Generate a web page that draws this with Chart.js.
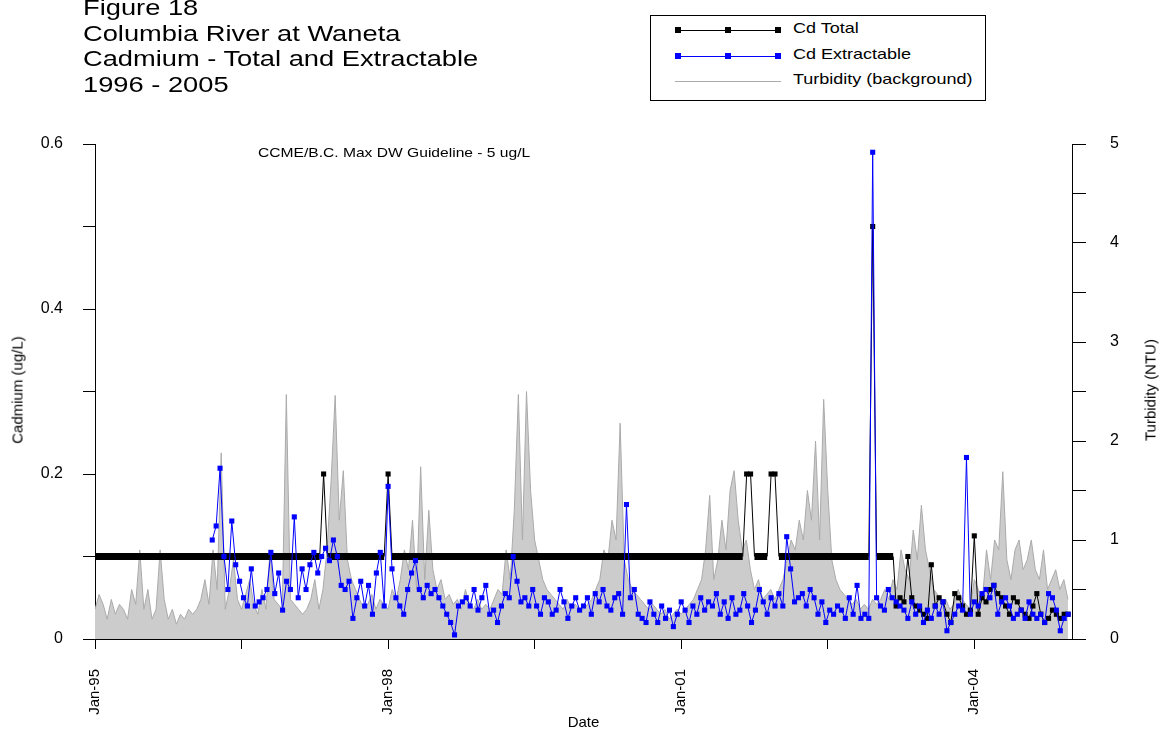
<!DOCTYPE html>
<html><head><meta charset="utf-8">
<script src="https://cdn.jsdelivr.net/npm/chart.js@4/dist/chart.umd.min.js"></script>
<style>
body{margin:0;background:#fff;font-family:"Liberation Sans",Arial,sans-serif;}
#wrap{position:relative;width:1160px;height:736px;overflow:hidden}
canvas{position:absolute;left:0;top:0}
.t{position:absolute;left:83px;font-size:22px;line-height:25.5px;color:#000;transform:scaleX(1.24);transform-origin:0 0;white-space:nowrap}
#leg{position:absolute;left:650px;top:15px;width:334px;height:84px;border:1px solid #000;background:#fff;font-size:15px}
.row{position:absolute;left:24px;height:20px}
.row span{position:absolute;left:118px;top:-2px;white-space:nowrap;transform:scaleX(1.2);transform-origin:0 0}
.ln{position:absolute;left:0;top:9px;width:106px;height:1px}
.mk{position:absolute;top:6px;width:6px;height:6px}
#guide{position:absolute;left:258px;top:145px;font-size:13px;transform:scaleX(1.2);transform-origin:0 0;white-space:nowrap}
#rt{position:absolute;left:1150px;top:390px;font-size:15px;white-space:nowrap;transform:translate(-50%,-50%) rotate(-90deg)}
#lt{position:absolute;left:17px;top:390px;font-size:15px;white-space:nowrap;transform:translate(-50%,-50%) rotate(-90deg)}
</style></head><body>
<div id="wrap">
<canvas id="c" width="1160" height="736"></canvas>
<div class="t" style="top:-5px">Figure 18<br>Columbia River at Waneta<br>Cadmium - Total and Extractable<br>1996 - 2005</div>
<div id="leg">
 <div class="row" style="top:5px"><div class="ln" style="background:#000"></div><div class="mk" style="left:0;background:#000"></div><div class="mk" style="left:50px;background:#000"></div><div class="mk" style="left:100px;background:#000"></div><span>Cd Total</span></div>
 <div class="row" style="top:31px"><div class="ln" style="background:#00f"></div><div class="mk" style="left:0;background:#00f"></div><div class="mk" style="left:50px;background:#00f"></div><div class="mk" style="left:100px;background:#00f"></div><span>Cd Extractable</span></div>
 <div class="row" style="top:56px"><div class="ln" style="background:#aaa"></div><span>Turbidity (background)</span></div>
</div>
<div id="guide">CCME/B.C. Max DW Guideline - 5 ug/L</div>
<div id="lt">Cadmium (ug/L)</div>
<div id="rt">Turbidity (NTU)</div>
</div>
<script>
const xTicks=[1995,1996.5,1998,1999.5,2001,2002.5,2004];
const xTickLabels={1995:"Jan-95",1998:"Jan-98",2001:"Jan-01",2004:"Jan-04"};
const cdTicks=[0,0.1,0.2,0.3,0.4,0.5,0.6];
const ntuTicks=[0,0.5,1,1.5,2,2.5,3,3.5,4,4.5,5];

// Cd Extractable: first sample 1996.20, roughly every 0.04 yr
const extStart=1996.20, extStep=0.04;
const extValues=[0.12,0.137,0.207,0.1,0.06,0.143,0.09,0.07,0.05,0.04,0.085,0.04,0.045,0.05,0.06,0.105,0.055,0.08,0.035,0.07,
0.06,0.148,0.05,0.085,0.06,0.09,0.105,0.08,0.1,0.11,0.095,0.12,0.1,0.065,0.06,0.07,0.025,0.05,0.07,0.04,0.065,0.03,0.08,0.105,0.04,
0.185,
0.085,0.05,0.04,0.03,0.06,0.08,0.095,0.06,0.05,0.065,0.055,0.06,0.05,0.04,0.03,0.02,0.005,0.04,0.045,0.05,0.04,0.06,0.035,0.05,
0.065,0.03,0.035,0.02,0.04,0.055,0.05,0.1,0.07,0.045,0.05,0.04,0.06,0.04,0.03,0.05,0.045,0.03,0.035,0.06,0.045,0.025,0.04,0.05,0.035,
0.04,0.05,0.03,0.055,0.045,0.06,0.04,0.035,0.05,0.055,0.03,0.163,0.05,0.06,0.03,0.025,0.02,0.045,0.03,0.02,0.04,0.025,0.035,0.015,0.03,
0.045,0.035,0.02,0.04,0.03,0.05,0.035,0.045,0.04,0.055,0.03,0.045,0.025,0.05,0.03,0.035,0.055,0.04,0.02,0.035,0.06,0.045,0.03,0.05,0.04,
0.055,0.04,0.124,0.085,0.045,0.05,0.055,0.04,0.06,0.05,0.03,0.045,0.02,0.035,0.03,0.04,0.035,0.025,0.05,0.03,0.065,0.025,0.03,0.025,0.59,
0.05,0.04,0.035,0.06,0.05,0.045,0.04,0.035,0.025,0.045,0.03,0.04,0.02,0.035,0.025,0.04,0.03,0.045,0.01,0.02,0.03,0.04,0.035,0.22,0.03,
0.045,0.04,0.055,0.06,0.05,0.065,0.03,0.045,0.05,0.04,0.025,0.03,0.035,0.025,0.045,0.03,0.025,0.03,0.02,0.055,0.05,0.035,0.01,0.025,0.03];

// Cd Total: detection-limit period (dates / values), then regular samples
const totDates=[1995.0,1997.30,1997.34,1997.38,1997.96,1998.0,1998.04,2001.63,2001.67,2001.71,2001.75,2001.88,2001.92,2001.96,2002.0,2002.92,2002.96,2003.0,2003.17];
const totValues=[0.1,0.1,0.2,0.1,0.1,0.2,0.1,0.1,0.2,0.2,0.1,0.1,0.2,0.2,0.1,0.1,0.5,0.1,0.1];
const totTailStart=2003.20, totTailStep=0.04;
const totTailValues=[0.04,0.05,0.045,0.1,0.05,0.04,0.035,0.03,0.025,0.09,0.04,0.05,0.045,0.03,0.02,0.055,0.05,0.04,0.03,0.035,0.125,0.03,0.05,0.045,0.06,0.065,0.055,0.05,0.04,0.03,0.05,0.045,0.035,0.03,0.025,0.04,0.055,0.03,0.02,0.025,0.035,0.03,0.025,0.03,0.03];

// Turbidity (NTU), twice monthly from Jan-95
const turbStart=1995.0, turbStep=1/24;
const turbValues=[0.3,0.45,0.35,0.2,0.4,0.25,0.35,0.3,0.2,0.5,0.35,0.9,0.3,0.5,0.2,0.3,0.9,0.4,0.2,0.3,0.15,0.25,0.2,0.3,
0.25,0.3,0.4,0.6,0.35,0.9,0.5,1.88,0.3,0.5,0.8,0.4,0.3,0.45,0.6,0.35,0.25,0.5,0.3,0.9,0.4,0.35,0.3,2.47,
0.4,0.35,0.3,0.25,0.3,0.4,0.6,0.3,0.5,0.9,1.6,2.46,1.2,1.7,0.8,0.6,0.5,0.4,0.3,0.35,0.45,0.3,0.4,0.35,
0.3,0.5,0.4,0.6,0.9,0.7,1.2,0.5,1.74,0.6,1.3,0.7,0.5,0.6,0.4,0.45,0.35,0.4,0.3,0.5,0.35,0.3,0.4,0.3,
0.35,0.3,0.4,0.5,0.45,0.9,0.6,1.3,2.47,1.0,2.5,1.5,1.0,0.8,0.6,0.5,0.45,0.4,0.35,0.3,0.4,0.3,0.35,0.3,
0.3,0.35,0.4,0.5,0.6,0.9,0.8,1.2,1.0,2.18,0.8,0.6,0.5,0.45,0.4,0.35,0.3,0.35,0.3,0.25,0.3,0.2,0.25,0.3,
0.25,0.3,0.35,0.4,0.5,0.6,0.9,1.45,0.6,0.8,1.2,0.9,1.5,1.7,1.2,0.9,1.0,0.7,0.5,0.6,0.4,0.45,0.5,0.4,
0.5,0.6,0.8,1.0,0.9,1.2,1.0,1.5,1.2,2.0,1.0,2.42,1.5,0.8,0.6,0.5,0.45,0.4,0.35,0.4,0.3,0.35,0.3,0.4,
0.35,0.4,0.5,0.4,0.6,0.5,0.9,0.7,0.6,1.1,0.8,1.35,0.9,0.7,0.5,0.45,0.35,0.4,0.3,0.35,0.5,0.4,0.35,0.3,
0.6,0.5,0.4,0.9,0.6,1.0,0.9,1.69,0.8,0.6,0.9,1.0,0.7,0.8,1.0,0.7,0.6,0.9,0.5,0.6,0.7,0.5,0.6,0.4];

const extData=extValues.map((v,i)=>({x:extStart+i*extStep,y:v}));
const totData=totDates.map((d,i)=>({x:d,y:totValues[i]})).concat(totTailValues.map((v,i)=>({x:totTailStart+i*totTailStep,y:v})));
const turbData=turbValues.map((v,i)=>({x:Math.min(turbStart+i*turbStep,2004.97),y:v}));

const F={family:"'Liberation Sans', Arial, sans-serif",size:16};
const fixTicks=arr=>s=>{s.ticks=arr.map(v=>({value:v}));};
new Chart(document.getElementById('c'),{
 type:'line',
 data:{datasets:[
  {label:'Cd Extractable',data:extData,yAxisID:'y',borderColor:'#0000ff',backgroundColor:'#0000ff',borderWidth:1,pointStyle:'rect',pointRadius:3.6,pointBorderWidth:0,order:1},
  {label:'Cd Total',data:totData,yAxisID:'y',borderColor:'#000',backgroundColor:'#000',borderWidth:1,pointStyle:'rect',
   pointRadius:c=>c.raw&&c.raw.x<2003.18&&c.raw.y===0.1?0:3.6,pointBorderWidth:0,order:2,
   segment:{borderWidth:c=>(c.p0.parsed.y===0.1&&c.p1.parsed.y===0.1&&c.p1.parsed.x<=2003.17)?7:1}},
  {label:'Turbidity',data:turbData,yAxisID:'y2',borderColor:'#aaaaaa',backgroundColor:'#cccccc',borderWidth:1,pointRadius:0,fill:'origin',order:3}
 ]},
 options:{responsive:false,animation:false,
  layout:{padding:{top:144,left:0,right:0,bottom:0}},
  plugins:{legend:{display:false},tooltip:{enabled:false}},
  scales:{
   x:{type:'linear',min:1995,max:2005,afterBuildTicks:fixTicks(xTicks),afterFit:s=>{s.height=97;},
     grid:{drawOnChartArea:false,tickLength:10,color:'#000'},border:{color:'#000'},
     ticks:{font:{...F,size:15},color:'#000',padding:20,minRotation:90,maxRotation:90,callback:v=>xTickLabels[v]||''},
     title:{display:true,text:'Date',font:{...F,size:15},color:'#000',padding:{top:0,bottom:4}}},
   y:{position:'left',min:0,max:0.6,afterBuildTicks:fixTicks(cdTicks),afterFit:s=>{s.width=95;},
     grid:{drawOnChartArea:false,tickLength:12,color:'#000'},border:{color:'#000'},
     ticks:{font:F,color:'#000',padding:20,callback:v=>Math.round(v*10)%2===0?String(Math.round(v*10)/10):''},
     title:{display:false}},
   y2:{position:'right',min:0,max:5,afterBuildTicks:fixTicks(ntuTicks),afterFit:s=>{s.width=88;},
     grid:{drawOnChartArea:false,tickLength:14,color:'#000'},border:{color:'#000'},
     ticks:{font:F,color:'#000',padding:24,callback:v=>Number.isInteger(v)?String(v):''},
     title:{display:false}}
  }}
});
</script></body></html>
